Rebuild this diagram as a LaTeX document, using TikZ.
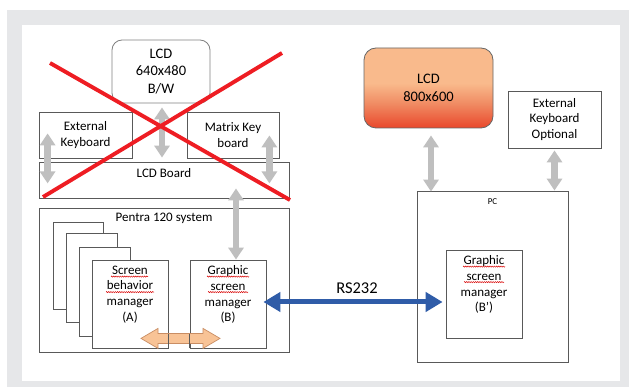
\documentclass[tikz,border=0pt]{standalone}
\usepackage{fontspec}
\setmainfont{Carlito}
\usetikzlibrary{arrows.meta,calc,decorations.pathmorphing}
\definecolor{bggray}{HTML}{E6E7E9}
\definecolor{boxline}{HTML}{595959}
\definecolor{arrgray}{HTML}{BFBFBF}
\definecolor{xred}{HTML}{EE1D23}
\definecolor{rsblue}{HTML}{2F5CA8}
\definecolor{orfill}{HTML}{F8C396}
\definecolor{orline}{HTML}{C98D63}
\definecolor{lcdtop}{HTML}{F9BA8C}
\definecolor{lcdmid}{HTML}{F08A62}
\definecolor{lcdbot}{HTML}{E9472B}
\pgfdeclareverticalshading{lcdshade}{100bp}{color(0bp)=(lcdbot); color(25bp)=(lcdbot); color(40bp)=(lcdmid); color(53bp)=(lcdtop); color(100bp)=(lcdtop)}
\tikzset{
  box/.style={draw=boxline, line width=0.8pt, fill=white, inner sep=0pt, align=center,
    font=\fontsize{13}{15.6}\selectfont},
  bigtxt/.style={font=\fontsize{14.5}{17.6}\selectfont},
  txt/.style={inner sep=0pt, align=center, font=\fontsize{13}{15.6}\selectfont},
  grayarrow/.style={draw=arrgray, line width=6.5pt, {Triangle[length=12pt,width=15pt]}-{Triangle[length=12pt,width=15pt]}},
  redx/.style={draw=xred, line width=3.9pt},
  bluearrow/.style={draw=rsblue, line width=5pt, {Triangle[length=17pt,width=19pt]}-{Triangle[length=17pt,width=19pt]}},
  orangearrow/.style={draw=orline, line width=0.7pt, fill=orfill, line join=miter},
  spell/.style={draw=red!85!black, line width=0.45pt, decorate, decoration={zigzag, amplitude=0.6pt, segment length=2.2pt}},
}
\begin{document}
\begin{tikzpicture}[x=1pt,y=-1pt]
\useasboundingbox (0,0) rectangle (629,387);
\fill[bggray] (7,10) rectangle (629,387);
\fill[white] (22,25) rectangle (620,381);

% left group
\node[box, rounded corners=10pt, draw=gray, minimum width=98, minimum height=63, bigtxt] (lcd640) at (161,71.5) {LCD\\640x480\\B/W};
\node[box, minimum width=93, minimum height=46] (extkb) at (85.5,135) {External\\Keyboard};
\node[box, minimum width=92, minimum height=46] (matrixkb) at (233,135) {Matrix Key\\board};
\node[box, minimum width=250, minimum height=36] (lcdboard) at (164,180) {};
\node[txt, anchor=center] (lcdboardtxt) at ($(lcdboard.north)+(0,11)$) {LCD Board};

\node[box, minimum width=250, minimum height=144] (pentra) at (164,280) {};
\node[txt] (pentratxt) at ($(pentra.north)+(0,11)$) {Pentra 120 system};
\node[box, minimum width=50, minimum height=87] (page1) at (78,265.5) {};
\node[box, minimum width=51, minimum height=89] (page2) at (91.5,277.5) {};
\node[box, minimum width=51, minimum height=89] (page3) at (104.5,291.5) {};
\node[box, minimum width=76, minimum height=88] (A) at (130,304) {};
\node[txt, anchor=north] (Atxt) at ($(A.north)+(0,6)$) {Screen\\behavior\\manager\\(A)};
\node[box, minimum width=76, minimum height=88] (B) at (228,304) {};
\node[txt, anchor=north] (Btxt) at ($(B.north)+(0,6)$) {Graphic\\screen\\manager\\(B)};

% orange double arrow between A and B
\coordinate (oc) at ($(A.south east)!0.5!(B.south west)+(1.5,-10)$);
\draw[orangearrow] ($(oc)+(-39.5,0)$) -- ++(17,-10) -- ++(0,5) -- ++(45,0) -- ++(0,-5) -- ++(17,10) -- ++(-17,10) -- ++(0,-5) -- ++(-45,0) -- ++(0,5) -- cycle;
\draw[boxline, line width=0.8pt] (A.south east) -- ++(0,-14) (B.south west) -- ++(0,-14);

% right group
\node[box, rounded corners=12pt, draw=gray!80!black, shading=lcdshade, minimum width=129, minimum height=80, bigtxt] (lcd800) at (428.5,88) {LCD\\800x600};
\node[box, minimum width=93, minimum height=57] (extkbopt) at (554.5,119.5) {External\\Keyboard\\Optional};
\node[box, minimum width=151, minimum height=171] (pc) at (492.5,276.5) {};
\node[txt, font=\fontsize{9}{11}\selectfont] (pctxt) at ($(pc.north)+(0,11)$) {PC};
\node[box, minimum width=76, minimum height=88] (Bp) at (484,294) {};
\node[txt, anchor=north] (Bptxt) at ($(Bp.north)+(0,6)$) {Graphic\\screen\\manager\\(B’)};

% spell-check underlines
\draw[spell] ($(A.north)+(-19,17)$) -- ++(37,0);
\draw[spell] ($(A.north)+(-24,32.5)$) -- ++(48,0);
\draw[spell] ($(B.north)+(-21,17)$) -- ++(42,0);
\draw[spell] ($(B.north)+(-20,32.5)$) -- ++(40,0);
\draw[spell] ($(Bp.north)+(-21,17)$) -- ++(42,0);
\draw[spell] ($(Bp.north)+(-20,32.5)$) -- ++(40,0);

% gray arrows
\draw[grayarrow] ($(lcd640.south)+(1,4)$) -- ($(lcdboard.north)+(-2,-4)$);
\draw[grayarrow] ($(extkb.south west)+(9,-25)$) -- ($(lcdboard.south west)+(9,-15)$);
\draw[grayarrow] ($(matrixkb.south east)+(-10,-23)$) -- ($(lcdboard.south east)+(-20,-15)$);
\draw[grayarrow] ($(lcdboard.south)+(72,-10)$) -- ($(B.north)+(8,0)$);
\draw[grayarrow] ($(lcd800.south)+(2.5,7)$) -- ($(pc.north)+(-61.5,1)$);
\draw[grayarrow] ($(extkbopt.south)+(0,2)$) -- (extkbopt.south |- pc.north);

% RS232
\draw[bluearrow] ($(B.east)+(-3,-2)$) -- ($(Bp.west)+(-3,8)$);
\node[txt, font=\fontsize{16.5}{19}\selectfont] (rs) at (357,288) {RS232};

% red cross
\coordinate (x1a) at (50,63);
\coordinate (x1b) at (290,200);
\coordinate (x2a) at (282,53);
\coordinate (x2b) at (43,197);
\draw[redx] (x1a) -- (x1b);
\draw[redx] (x2a) -- (x2b);
\end{tikzpicture}
\end{document}
